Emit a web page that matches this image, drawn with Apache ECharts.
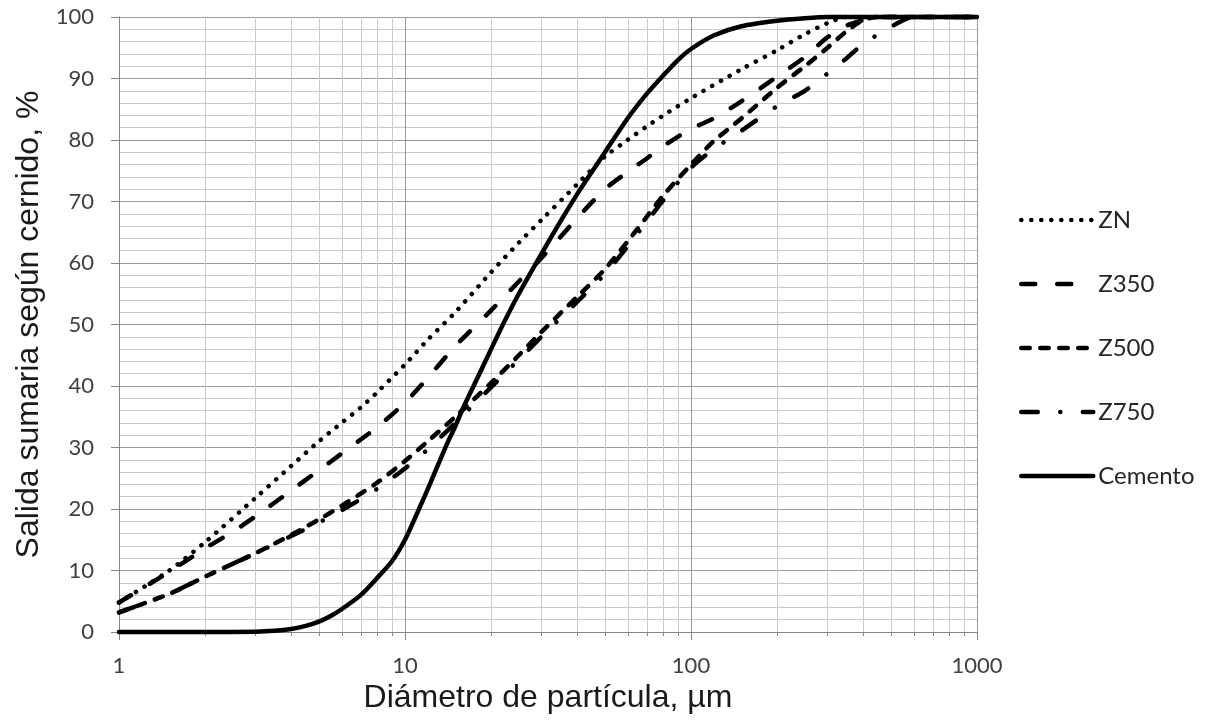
<!DOCTYPE html>
<html>
<head>
<meta charset="utf-8">
<title>Salida sumaria según cernido</title>
<script src="https://cdn.jsdelivr.net/npm/echarts@6/dist/echarts.min.js"></script>
<style>
  html, body { margin: 0; padding: 0; background: #fff; }
  #chart { width: 1208px; height: 728px; }
</style>
</head>
<body>
<div id="chart"></div>
<script>
// Particle size distributions: diameter (µm) and cumulative passing (%)
const znD = [1, 1.5, 2, 3, 4, 5, 6, 7, 8, 10, 12, 15, 20, 25, 30, 40, 50, 60, 70, 80, 100, 150, 200, 250, 300, 350, 1000];
const znV = [4.8, 10, 14.6, 21.8, 27, 31, 34, 36.5, 39, 43.5, 47.5, 52, 58.5, 63.3, 67, 72.8, 77.3, 80, 82.2, 84, 86.8, 91.5, 94.6, 97.2, 99, 100, 100];

const z350D = [1, 1.5, 2, 2.5, 3, 4, 5, 6, 7, 8, 10, 12, 15, 20, 25, 30, 40, 50, 60, 70, 80, 100, 120, 150, 200, 250, 300, 350, 400, 450, 1000];
const z350V = [4.8, 9.8, 13.6, 16.3, 18.8, 23, 26.3, 29, 31.3, 33.3, 37.3, 41.3, 46.5, 52.3, 57, 60.8, 67.3, 72, 74.8, 77, 79, 81.8, 83.5, 86.3, 90.3, 93.5, 96.7, 98.6, 99.5, 100, 100];

const z500D = [1, 1.5, 2, 2.5, 3, 4, 5, 6, 7, 8, 10, 12, 15, 20, 25, 30, 40, 50, 60, 70, 80, 100, 120, 150, 200, 250, 300, 350, 400, 450, 1000];
const z500V = [3.2, 6.2, 9, 11.1, 12.8, 15.8, 18.3, 20.5, 22.5, 24.3, 27.8, 31, 35, 40.5, 45, 48.8, 54.5, 59, 63.5, 67.5, 71, 76, 79.8, 83.5, 88.5, 92, 95, 97.7, 99.5, 100, 100];

const z750D = [1, 1.5, 2, 2.5, 3, 4, 5, 6, 7, 8, 10, 12, 15, 20, 25, 30, 40, 50, 60, 70, 80, 100, 120, 150, 200, 250, 300, 350, 400, 500, 600, 1000];
const z750V = [3.2, 6.2, 9, 11.1, 12.8, 15.6, 17.8, 19.8, 21.6, 23.3, 26.6, 29.7, 34, 39.8, 44.3, 48, 53.7, 58.2, 62.7, 66.7, 70.2, 75.5, 78.5, 81.5, 85.5, 88, 90.8, 93.3, 95.6, 98.4, 100, 100];

const cementoD = [1, 2, 3, 3.5, 4, 4.5, 5, 5.5, 6, 7, 8, 9, 10, 11, 12, 13, 14, 15, 16, 18, 20, 22, 25, 30, 35, 40, 45, 50, 60, 70, 80, 90, 100, 120, 150, 200, 250, 300, 400, 1000];
const cementoV = [0, 0, 0.05, 0.2, 0.5, 1.0, 1.7, 2.6, 3.7, 6.0, 8.8, 11.5, 15, 19.2, 23.2, 27, 30.5, 33.5, 36.5, 41.5, 46, 50, 55, 61.5, 66.8, 71.2, 74.8, 78, 83.5, 87.5, 90.5, 93, 94.8, 97, 98.5, 99.4, 99.8, 100, 100, 100];

// Log axis decades and the in-between multipliers used for minor grid lines
const decades = [1, 10, 100];
const multipliers = [2, 3, 4, 5, 6, 7, 8, 9];

const xTitle = 'Diámetro de partícula, µm';
const yTitle = 'Salida sumaria según cernido, %';

const pairs = (d, v) => d.map((x, i) => [x, v[i]]);
const minorX = [];
decades.forEach(dec => multipliers.forEach(m => minorX.push([dec * m])));

const labelFont = 'Lato, "Open Sans", sans-serif';
const titleFont = '"Liberation Sans", Arial, sans-serif';
const W = 4.5;

function lineSeries(name, data, dash) {
  return {
    name: name,
    type: 'line',
    data: data,
    showSymbol: false,
    symbol: 'none',
    smooth: 0.25,
    clip: false,
    z: 5,
    lineStyle: { color: '#000', width: W, type: dash, cap: 'round', join: 'round' },
    itemStyle: { color: '#000' },
    emphasis: { disabled: true }
  };
}

const chart = echarts.init(document.getElementById('chart'), null, { renderer: 'canvas' });

chart.setOption({
  animation: false,
  backgroundColor: '#fff',
  grid: { left: 119, right: 231, top: 17, bottom: 96, containLabel: false },
  legend: {
    orient: 'vertical',
    left: 1014,
    top: 201,
    itemWidth: 72,
    itemHeight: 14,
    itemGap: 36,
    data: ['ZN', 'Z350', 'Z500', 'Z750', 'Cemento'],
    itemStyle: { opacity: 0 },
    lineStyle: { width: W },
    textStyle: { fontFamily: labelFont, fontSize: 24, color: '#262626', lineHeight: 28 },
    selectedMode: false
  },
  xAxis: {
    type: 'log',
    logBase: 10,
    min: 1,
    max: 1000,
    name: xTitle,
    nameLocation: 'middle',
    nameGap: 49,
    nameTextStyle: { fontFamily: titleFont, fontSize: 32, color: '#1a1a1a' },
    axisLine: { show: true, lineStyle: { color: '#868686', width: 1 } },
    axisTick: { show: true, length: 8, lineStyle: { color: '#868686' } },
    axisLabel: { fontFamily: labelFont, fontSize: 22, color: '#404040', margin: 23,
      formatter: v => String(v) },
    splitLine: { show: true, lineStyle: { color: '#9a9a9a', width: 1 } }
  },
  yAxis: {
    type: 'value',
    min: 0,
    max: 100,
    interval: 10,
    name: yTitle,
    nameLocation: 'middle',
    nameGap: 57,
    nameTextStyle: { fontFamily: titleFont, fontSize: 32, color: '#1a1a1a' },
    axisLine: { show: true, lineStyle: { color: '#868686', width: 1 } },
    axisTick: { show: true, length: 8, lineStyle: { color: '#868686' } },
    axisLabel: { fontFamily: labelFont, fontSize: 22, color: '#404040', margin: 25 },
    splitLine: { show: true, lineStyle: { color: '#9a9a9a', width: 1 } },
    minorTick: { show: false, splitNumber: 5 },
    minorSplitLine: { show: true, lineStyle: { color: '#cbcbcb', width: 1 } }
  },
  series: [
    {
      // minor vertical grid lines (2..9 within each decade) with short ticks under the axis
      name: 'minor-grid',
      type: 'custom',
      data: minorX,
      encode: { x: 0 },
      silent: true,
      clip: false,
      z: 1,
      renderItem: function (params, api) {
        const v = api.value(0);
        const top = api.coord([v, 100]);
        const bottom = api.coord([v, 0]);
        const x = Math.round(top[0]) + 0.5;
        return {
          type: 'group',
          children: [
            { type: 'line', shape: { x1: x, y1: top[1], x2: x, y2: bottom[1] },
              style: { stroke: '#cbcbcb', lineWidth: 1 } },
            { type: 'line', shape: { x1: x, y1: bottom[1], x2: x, y2: bottom[1] + 4 },
              style: { stroke: '#868686', lineWidth: 1 } }
          ]
        };
      }
    },
    lineSeries('ZN', pairs(znD, znV), [0.1, 9.9]),
    lineSeries('Z350', pairs(z350D, z350V), [14, 22]),
    lineSeries('Z500', pairs(z500D, z500V), [8.5, 10.5]),
    lineSeries('Z750', pairs(z750D, z750V), [16.5, 22.5, 0.1, 22.5]),
    lineSeries('Cemento', pairs(cementoD, cementoV), 'solid')
  ]
});
</script>
</body>
</html>
